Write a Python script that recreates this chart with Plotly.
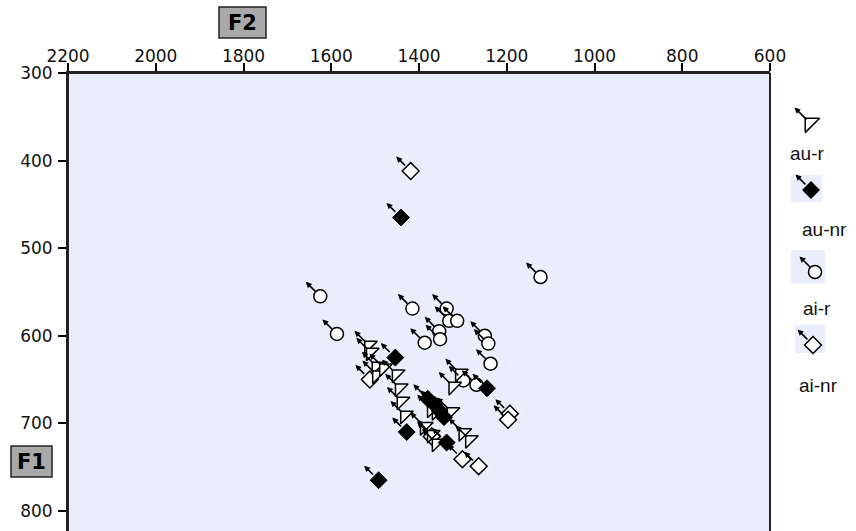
import plotly.graph_objects as go

# ---------------- data (F2, F1 in Hz) ----------------
au_r_f2 = [1514, 1510, 1497, 1496, 1480, 1451, 1444, 1440, 1432, 1307, 1322, 1360, 1326, 1371, 1360, 1299, 1284, 1387, 1371]
au_r_f1 = [611, 619, 635, 645, 637, 644, 660, 675, 691, 643, 658, 687, 687, 684, 723, 711, 719, 704, 713]

au_nr_f2 = [1441, 1454, 1245, 1428, 1337, 1492, 1380, 1364, 1353, 1343]
au_nr_f1 = [465, 625, 660, 710, 722, 765, 672, 679, 686, 693]

ai_r_f2 = [1123, 1625, 1415, 1337, 1331, 1313, 1587, 1354, 1250, 1242, 1237, 1387, 1352, 1299, 1269]
ai_r_f1 = [533, 555, 569, 569, 583, 583, 598, 595, 600, 609, 632, 608, 604, 651, 656]

ai_nr_f2 = [1419, 1193, 1197, 1301, 1264, 1512, 1371]
ai_nr_f1 = [412, 689, 696, 741, 749, 650, 715]

series_names = ["au-r", "au-nr", "ai-r", "ai-nr"]
x_ticks = [2200, 2000, 1800, 1600, 1400, 1200, 1000, 800, 600]
y_ticks = [300, 400, 500, 600, 700, 800]

# ---------------- layout geometry ----------------
W, H = 856, 531
ML, MT = 68, 73
PLOT_RIGHT = 770
X_RANGE = [2200, 600]
Y_RANGE = [823, 300]
BG = "#eaedfc"
XDOM_END = (PLOT_RIGHT - ML) / (W - ML)

def pxx(x):
    return (x - ML) / (W - ML)

def pyy(y):
    return (H - y) / (H - MT)

styles = {
    "au-r": dict(symbol="triangle-nw", size=14, color="white", line=dict(color="black", width=1.5), r=5),
    "au-nr": dict(symbol="diamond", size=13, color="black", line=dict(color="black", width=1), r=8),
    "ai-r": dict(symbol="circle", size=13, color="white", line=dict(color="black", width=1.5), r=7),
    "ai-nr": dict(symbol="diamond", size=13, color="white", line=dict(color="black", width=1.5), r=8),
}
data = {
    "au-r": (au_r_f2, au_r_f1),
    "au-nr": (au_nr_f2, au_nr_f1),
    "ai-r": (ai_r_f2, ai_r_f1),
    "ai-nr": (ai_nr_f2, ai_nr_f1),
}

ARROW = dict(showarrow=True, arrowside="start", startarrowhead=2, startarrowsize=0.75,
             arrowwidth=1.6, arrowcolor="black", startstandoff=0)

fig = go.Figure()
annotations = []
shapes = []

# plot-area background (only main subplot)
shapes.append(dict(type="rect", xref="x domain", yref="y domain", x0=0, x1=1, y0=0, y1=1,
                   fillcolor=BG, line=dict(width=0), layer="below"))

for name in ["ai-nr", "ai-r", "au-r", "au-nr"]:
    xs, ys = data[name]
    st = styles[name]
    fig.add_trace(go.Scatter(
        x=xs, y=ys, mode="markers", name=name, showlegend=False,
        marker=dict(symbol=st["symbol"], size=st["size"], color=st["color"], line=st["line"]),
        hoverinfo="skip", xaxis="x", yaxis="y"))
    for xv, yv in zip(xs, ys):
        annotations.append(dict(x=xv, y=yv, xref="x", yref="y", ax=-16, ay=-16, text="",
                                standoff=st["r"], **ARROW))

# ---------------- manual legend (pixel-coordinate helper axes) ----------------
leg_marker_x = [810, 811, 815, 813]
leg_marker_y = [123, 190, 272, 345]
leg_sizes = [16, 13, 13, 13]
leg_label_x = [807, 824, 817, 818]
leg_label_y = [153, 230, 308, 385]
leg_boxes = [None, (791, 175, 822, 202), (791, 250, 825, 283), (795, 325, 825, 353)]

for i, name in enumerate(series_names):
    st = styles[name]
    if leg_boxes[i] is not None:
        x0, y0, x1, y1 = leg_boxes[i]
        shapes.append(dict(type="rect", xref="paper", yref="paper",
                           x0=pxx(x0), x1=pxx(x1), y0=pyy(y1), y1=pyy(y0),
                           fillcolor=BG, line=dict(width=0), layer="below"))
    fig.add_trace(go.Scatter(
        x=[leg_marker_x[i]], y=[leg_marker_y[i]], mode="markers", showlegend=False,
        marker=dict(symbol=st["symbol"], size=leg_sizes[i], color=st["color"], line=st["line"]),
        hoverinfo="skip", xaxis="x2", yaxis="y2", cliponaxis=False))
    annotations.append(dict(x=pxx(leg_marker_x[i]), y=pyy(leg_marker_y[i]), xref="paper", yref="paper",
                            ax=-17, ay=-17, text="", standoff=st["r"], **ARROW))
    annotations.append(dict(
        x=pxx(leg_label_x[i]), y=pyy(leg_label_y[i]), xref="paper", yref="paper", text=name,
        showarrow=False, xanchor="center", yanchor="middle",
        font=dict(family="Liberation Sans, Arial, sans-serif", size=19, color="#111")))

# plot frame (left, top, right)
for (x0, y0, x1, y1) in [(0, 0, 0, 1), (0, 1, 1, 1), (1, 1, 1, 0)]:
    shapes.append(dict(type="line", xref="x domain", yref="y domain",
                       x0=x0, y0=y0, x1=x1, y1=y1, line=dict(color="#222", width=2)))

# axis title boxes
for label, (bx0, by0, bx1, by1) in [("F2", (219, 7, 266, 38)), ("F1", (11, 446, 52, 477))]:
    shapes.append(dict(type="rect", xref="paper", yref="paper",
                       x0=pxx(bx0), x1=pxx(bx1), y0=pyy(by1), y1=pyy(by0),
                       fillcolor="#a9a9a9", line=dict(color="#222", width=1.5)))
    annotations.append(dict(x=pxx((bx0 + bx1) / 2), y=pyy((by0 + by1) / 2), xref="paper", yref="paper",
                            text="<b>%s</b>" % label, showarrow=False, xanchor="center", yanchor="middle",
                            font=dict(family="DejaVu Sans, sans-serif", size=21, color="black")))

tickfont = dict(family="DejaVu Sans, sans-serif", size=17, color="#111")

fig.update_layout(
    width=W, height=H,
    margin=dict(l=ML, r=0, t=MT, b=0, pad=0, autoexpand=False),
    paper_bgcolor="white",
    plot_bgcolor="white",
    hovermode=False,
    xaxis=dict(domain=[0, XDOM_END], range=X_RANGE, side="top", tickvals=x_ticks,
               ticktext=[str(v) for v in x_ticks], ticks="outside", ticklen=8, tickwidth=1.5,
               tickcolor="black", showline=True, linecolor="#222", linewidth=2,
               showgrid=False, zeroline=False, tickfont=tickfont, automargin=False, anchor="y",
               ticklabelstandoff=-6),
    yaxis=dict(domain=[0, 1], range=Y_RANGE, tickvals=y_ticks,
               ticktext=[str(v) for v in y_ticks], ticks="outside", ticklen=8, tickwidth=1.5,
               tickcolor="black", showline=True, linecolor="#222", linewidth=2,
               showgrid=False, zeroline=False, tickfont=tickfont, automargin=False,
               ticklabelstandoff=2, anchor="x"),
    xaxis2=dict(domain=[XDOM_END, 1], range=[PLOT_RIGHT, W], visible=False, anchor="y2",
                automargin=False, fixedrange=True),
    yaxis2=dict(domain=[0, 1], range=[H, MT], visible=False, anchor="x2",
                automargin=False, fixedrange=True),
    shapes=shapes,
    annotations=annotations,
)

fig.write_html("out.html", config={"displayModeBar": False})
